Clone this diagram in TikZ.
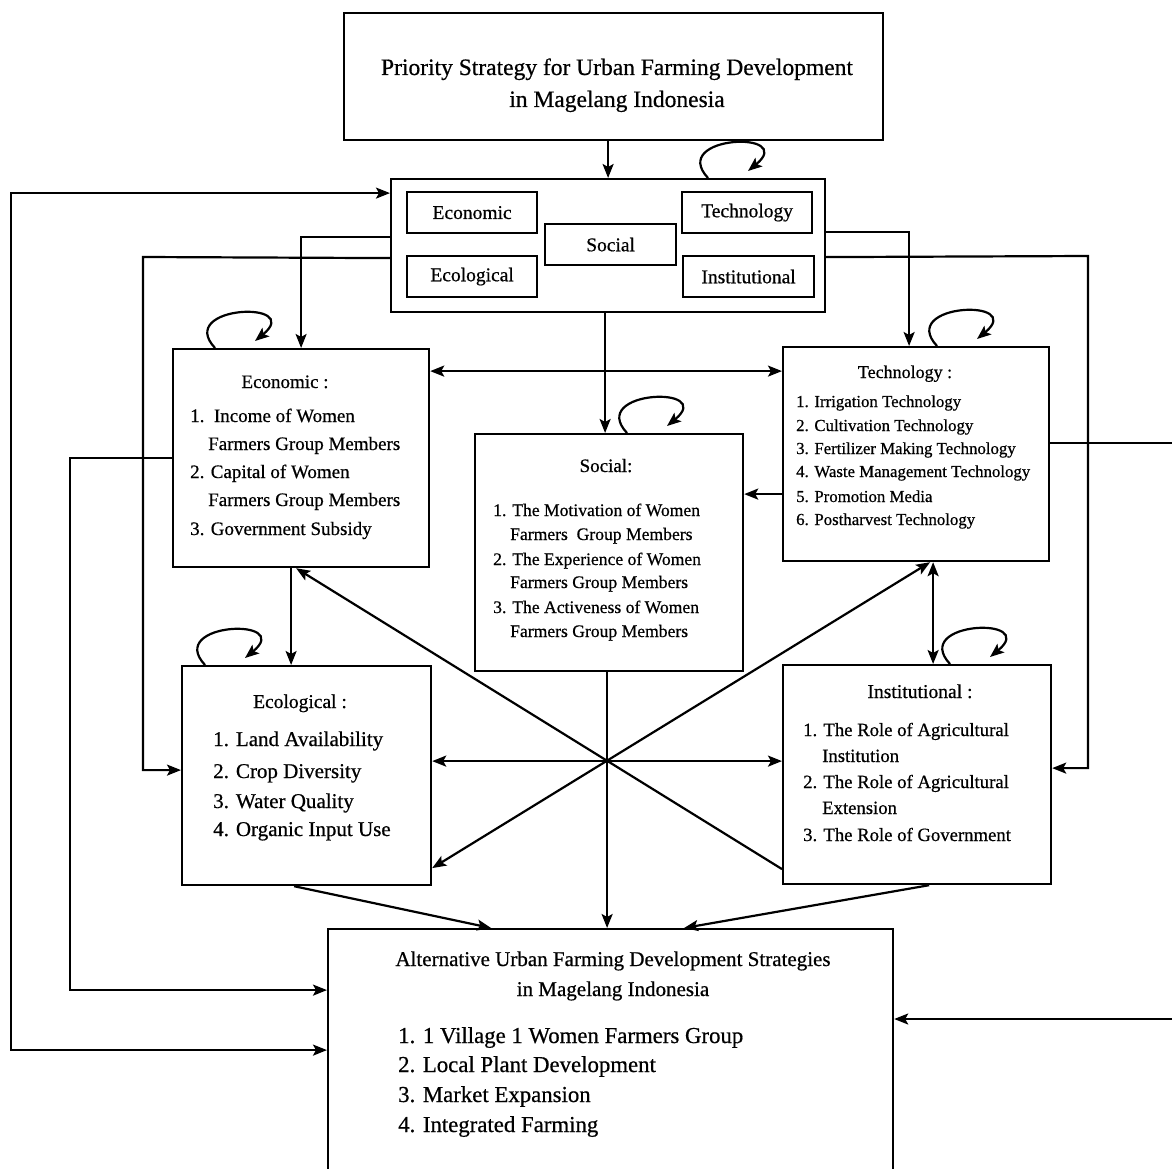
\documentclass[tikz,border=0pt]{standalone}
\usepackage{fontspec}
\setmainfont{Liberation Serif}[FakeBold=0.6]
\usetikzlibrary{arrows.meta}
\tikzset{
  x=1pt, y=-1pt,
  box/.style={draw, line width=2.2pt, rectangle, inner sep=0pt, anchor=north west},
  cbox/.style={box, font=\fontsize{19.5}{22}\selectfont},
  ln/.style={line width=2.2pt},
  arr/.style={line width=2.2pt, -{Stealth[length=14pt,width=11pt,inset=3pt]}},
  darr/.style={line width=2.2pt, {Stealth[length=14pt,width=11pt,inset=3pt]}-{Stealth[length=14pt,width=11pt,inset=3pt]}},
  li/.style={anchor=base west, inner sep=0pt},
  hd/.style={anchor=base, inner sep=0pt},
}
\newcommand{\myloop}[2]{\draw[arr] ([xshift=#2]#1.north west) .. controls +(-40,-43) and +(50,-41) .. +(40,-7);}
\begin{document}
\begin{tikzpicture}
\useasboundingbox (0,0) rectangle (1172,1169);
\fill[white] (0,0) rectangle (1172,1169);
\clip (0,0) rectangle (1172,1169);

% ---------- boxes ----------
\node[box, minimum width=539pt, minimum height=127pt] (top) at (343,12) {};
\node[box, minimum width=434pt, minimum height=133pt] (cluster) at (390,178) {};
\node[cbox, minimum width=130pt, minimum height=41pt] (ceco) at (406,191) {Economic};
\node[cbox, minimum width=130pt, minimum height=41pt] (cecl) at (406,255) {Ecological};
\node[cbox, minimum width=131pt, minimum height=41pt] (csoc) at (544,223) {Social};
\node[cbox, minimum width=130pt, minimum height=41pt] (ctech) at (681,191) {Technology};
\node[cbox, minimum width=131pt, minimum height=41pt] (cinst) at (682,255) {Institutional};
\node[box, minimum width=256pt, minimum height=218pt] (eco) at (172,348) {};
\node[box, minimum width=266pt, minimum height=214pt] (tech) at (782,346) {};
\node[box, minimum width=268pt, minimum height=237pt] (soc) at (474,433) {};
\node[box, minimum width=249pt, minimum height=219pt] (ecl) at (181,665) {};
\node[box, minimum width=268pt, minimum height=219pt] (inst) at (782,664) {};
\node[box, minimum width=565pt, minimum height=272pt] (alt) at (327,928) {};

% ---------- texts ----------
\begin{scope}[font=\fontsize{23.5}{28}\selectfont]
\node[hd] (t1) at (617,75) {Priority Strategy for Urban Farming Development};
\node[hd] (t2) at (617,107) {in Magelang Indonesia};
\end{scope}

\begin{scope}[font=\fontsize{19}{22}\selectfont]
\node[hd] (eh) at (285,388) {Economic :};
\node[li] (e1) at (190,422) {1.\ \ Income of Women};
\node[li] (e2) at (208,450) {Farmers Group Members};
\node[li] (e3) at (190,478) {2. Capital of Women};
\node[li] (e4) at (208,506) {Farmers Group Members};
\node[li] (e5) at (190,535) {3. Government Subsidy};
\end{scope}

\node[hd, font=\fontsize{18}{22}\selectfont] (th) at (905,378) {Technology :};
\begin{scope}[font=\fontsize{16.8}{20}\selectfont]
\node[li] (tt1) at (796,407) {1. Irrigation Technology};
\node[li] (tt2) at (796,431) {2. Cultivation Technology};
\node[li] (tt3) at (796,454) {3. Fertilizer Making Technology};
\node[li] (tt4) at (796,477) {4. Waste Management Technology};
\node[li] (tt5) at (796,502) {5. Promotion Media};
\node[li] (tt6) at (796,525) {6. Postharvest Technology};
\end{scope}

\node[hd, font=\fontsize{19}{22}\selectfont] (sh) at (606,472) {Social:};
\begin{scope}[font=\fontsize{17.6}{21}\selectfont]
\node[li] (s1) at (493,516) {1. The Motivation of Women};
\node[li] (s2) at (510,540) {Farmers\ \ Group Members};
\node[li] (s3) at (493,565) {2. The Experience of Women};
\node[li] (s4) at (510,588) {Farmers Group Members};
\node[li] (s5) at (493,613) {3. The Activeness of Women};
\node[li] (s6) at (510,637) {Farmers Group Members};
\end{scope}

\node[hd, font=\fontsize{19.5}{22}\selectfont] (lh) at (300,708) {Ecological :};
\begin{scope}[font=\fontsize{21}{24}\selectfont]
\node[li] (l1) at (213,746) {1. Land Availability};
\node[li] (l2) at (213,778) {2. Crop Diversity};
\node[li] (l3) at (213,808) {3. Water Quality};
\node[li] (l4) at (213,836) {4. Organic Input Use};
\end{scope}

\node[hd, font=\fontsize{19.6}{22}\selectfont] (ih) at (920,698) {Institutional :};
\begin{scope}[font=\fontsize{18.7}{22}\selectfont]
\node[li] (i1) at (803,736) {1. The Role of Agricultural};
\node[li] (i2) at (822,762) {Institution};
\node[li] (i3) at (803,788) {2. The Role of Agricultural};
\node[li] (i4) at (822,814) {Extension};
\node[li] (i5) at (803,841) {3. The Role of Government};
\end{scope}

\begin{scope}[font=\fontsize{21}{24}\selectfont]
\node[hd] (ah1) at (613,966) {Alternative Urban Farming Development Strategies};
\node[hd] (ah2) at (613,996) {in Magelang Indonesia};
\end{scope}
\begin{scope}[font=\fontsize{22.8}{26}\selectfont]
\node[li] (a1) at (398,1043) {1. 1 Village 1 Women Farmers Group};
\node[li] (a2) at (398,1072) {2. Local Plant Development};
\node[li] (a3) at (398,1102) {3. Market Expansion};
\node[li] (a4) at (398,1132) {4. Integrated Farming};
\end{scope}

% ---------- bend coordinates ----------
\coordinate (kE) at (143,257);
\coordinate (kL) at (11,600);
\coordinate (kA) at (70,700);
\coordinate (kI) at (1088,256);
\coordinate (tA) at ([yshift=11pt]tech.east);
\coordinate (rA) at (1180,442);
\coordinate (rB) at (1180,1019);

% ---------- connectors ----------
\draw[arr] ([xshift=-5.5pt]top.south) -- ([xshift=-5.5pt]top.south |- cluster.north);
\draw[arr] ([yshift=8.5pt]cluster.west) -| (eco.north);
\draw[arr] ([yshift=-12.5pt]cluster.west) -- (kE) |- ([yshift=5.5pt]ecl.west);
\draw[darr] ([yshift=52.5pt]cluster.west) -| (kL) |- ([yshift=15pt]alt.west);
\draw[arr] (eco.west) -| (kA) |- ([yshift=75pt]alt.west);
\draw[arr] ([yshift=13.5pt]cluster.east) -| ([xshift=-7pt]tech.north);
\draw[arr] ([yshift=-11.5pt]cluster.east) -- (kI) |- ([yshift=6.5pt]inst.east);
\draw[ln] (tA) -- (rA |- tA);
\draw[arr] (rB) -- (rB -| alt.east);
\draw[darr] ([yshift=87pt]eco.east) -- ([yshift=83pt]tech.west);
\draw[arr] ([yshift=-40pt]tech.west) -- ([yshift=58.5pt]soc.east);
\draw[arr] ([xshift=-3pt]cluster.south) -- ([xshift=-3pt]cluster.south |- soc.north);
\draw[arr] ([xshift=-10pt]eco.south) -- ([xshift=-10pt]eco.south |- ecl.north);
\draw[darr] ([xshift=17pt]tech.south) -- ([xshift=17pt]tech.south |- inst.north);
\draw[darr] ([yshift=14.5pt]ecl.east) -- ([yshift=13.5pt]inst.west);
\draw[arr] ([yshift=-94.5pt]inst.west) -- ([xshift=-5pt]eco.south);
\draw[darr] ([xshift=14pt]tech.south) -- ([yshift=-92.5pt]ecl.east);
\draw[arr] ([xshift=-2pt]soc.south) -- ([xshift=-2pt]soc.south |- alt.north);
\draw[arr] ([xshift=-12.5pt]ecl.south) -- ([xshift=-119.5pt]alt.north);
\draw[arr] ([xshift=12pt]inst.south) -- ([xshift=73.5pt]alt.north);

% ---------- self loops ----------
\myloop{cluster}{318pt}
\myloop{eco}{43pt}
\myloop{tech}{155pt}
\myloop{soc}{153pt}
\myloop{ecl}{24pt}
\myloop{inst}{168pt}
\end{tikzpicture}
\end{document}
